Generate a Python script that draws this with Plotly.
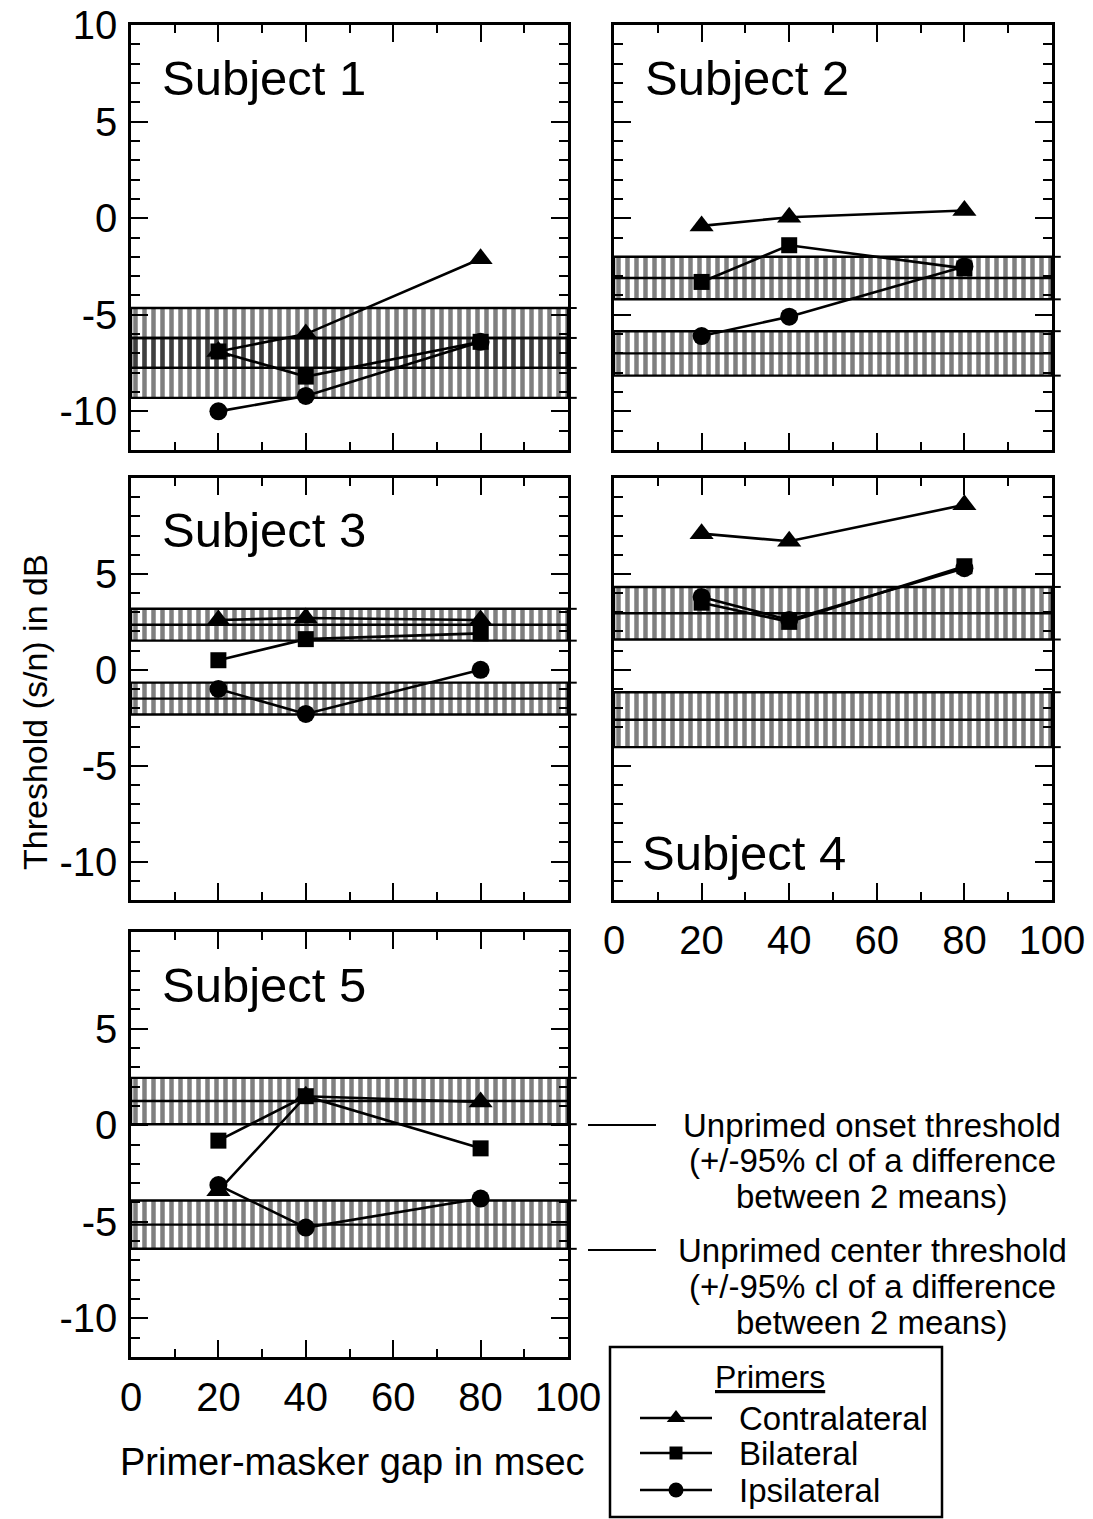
import plotly.graph_objects as go

W, H = 1093, 1519
OFF = 8  # page body margin of the html page
FONT = "Liberation Sans, Arial, sans-serif"

# ---------------- data ----------------
gaps = [20, 40, 80]
series_names = ["Contralateral", "Bilateral", "Ipsilateral"]

s1_contra = [-6.9, -6.0, -2.1]
s1_bilat = [-6.9, -8.2, -6.4]
s1_ipsi = [-10.0, -9.2, -6.4]

s2_contra = [-0.4, 0.05, 0.4]
s2_bilat = [-3.3, -1.4, -2.6]
s2_ipsi = [-6.1, -5.1, -2.5]

s3_contra = [2.6, 2.7, 2.6]
s3_bilat = [0.5, 1.6, 1.9]
s3_ipsi = [-1.0, -2.3, 0.0]

s4_contra = [7.1, 6.7, 8.6]
s4_bilat = [3.5, 2.5, 5.4]
s4_ipsi = [3.8, 2.6, 5.3]

s5_contra = [-3.4, 1.5, 1.2]
s5_bilat = [-0.8, 1.5, -1.2]
s5_ipsi = [-3.1, -5.3, -3.8]

# unprimed thresholds (mean, +/- 95% ci half-width), subjects 1..5
onset_mean = [-6.2, -3.1, 2.35, 2.95, 1.25]
onset_ci = [1.55, 1.1, 0.83, 1.37, 1.2]
center_mean = [-7.75, -7.0, -1.5, -2.6, -5.15]
center_ci = [1.55, 1.15, 0.83, 1.43, 1.25]

subject_labels = ["Subject 1", "Subject 2", "Subject 3", "Subject 4", "Subject 5"]
x_range = [0, 100]
y_range = [-12, 10]
x_ticks = [0, 20, 40, 60, 80, 100]
y_ticks_top = [-10, -5, 0, 5, 10]
y_ticks_low = [-10, -5, 0, 5]

contra = [s1_contra, s2_contra, s3_contra, s4_contra, s5_contra]
bilat = [s1_bilat, s2_bilat, s3_bilat, s4_bilat, s5_bilat]
ipsi = [s1_ipsi, s2_ipsi, s3_ipsi, s4_ipsi, s5_ipsi]


# ---------------- layout helpers (page pixel -> paper) ----------------
def px(x):
    return (x - OFF) / W


def py(y):
    return 1 - (y - OFF) / H


cols = [(131, 568), (614, 1052)]
rows = [(25, 450), (478, 900), (932, 1357)]
panel_pos = [(0, 0), (1, 0), (0, 1), (1, 1), (0, 2)]  # (col, row)

fig = go.Figure()


def ax_suffix(i):
    return "" if i == 0 else str(i + 1)


symbols = ["triangle-up", "square", "circle"]
sizes = [21, 16, 18]
shapes = []

for i in range(5):
    xa = "x" + ax_suffix(i)
    ya = "y" + ax_suffix(i)
    # hatched bands
    for mean, ci in ((onset_mean[i], onset_ci[i]), (center_mean[i], center_ci[i])):
        lo, hi = mean - ci, mean + ci
        fig.add_trace(go.Scatter(
            x=[x_range[0], x_range[1], x_range[1], x_range[0], x_range[0]],
            y=[lo, lo, hi, hi, lo],
            mode="lines", fill="toself",
            fillcolor="rgba(0,0,0,0)",
            fillpattern=dict(shape="|", size=9, solidity=0.5,
                             fgcolor="black", bgcolor="rgba(0,0,0,0)"),
            line=dict(color="black", width=2.4),
            xaxis=xa, yaxis=ya, showlegend=False, hoverinfo="skip"))
        fig.add_trace(go.Scatter(
            x=x_range, y=[mean, mean], mode="lines",
            line=dict(color="black", width=2.4),
            xaxis=xa, yaxis=ya, showlegend=False, hoverinfo="skip"))
        # band edges poke out past the right frame
        for v in (lo, hi):
            shapes.append(dict(type="line", xref=xa + " domain", yref=ya,
                               x0=1.0, x1=1.02, y0=v, y1=v,
                               line=dict(color="black", width=2)))
    # data series
    for k, vals in enumerate((contra[i], bilat[i], ipsi[i])):
        fig.add_trace(go.Scatter(
            x=gaps, y=vals, mode="lines+markers",
            name=series_names[k], showlegend=False,
            line=dict(color="black", width=2.6),
            marker=dict(symbol=symbols[k], size=sizes[k], color="black"),
            xaxis=xa, yaxis=ya, cliponaxis=False))

common = dict(showline=True, linecolor="black", linewidth=2.5, mirror="allticks",
              ticks="inside", tickwidth=2, tickcolor="black", showgrid=False,
              zeroline=False, ticklabeloverflow="allow",
              tickfont=dict(family=FONT, size=40, color="black"))

for i in range(5):
    c, r = panel_pos[i]
    s = ax_suffix(i)
    show_x = i in (3, 4)
    xaxis = dict(common, domain=[px(cols[c][0]), px(cols[c][1])], range=x_range,
                 anchor="y" + s, tickmode="array", tickvals=x_ticks,
                 ticktext=[str(v) for v in x_ticks], ticklen=17,
                 minor=dict(ticks="inside", ticklen=8, tickwidth=2, tickcolor="black",
                            tickmode="linear", tick0=0, dtick=10),
                 showticklabels=show_x, ticklabelstandoff=3)
    yt = y_ticks_top if i == 0 else y_ticks_low
    yaxis = dict(common, domain=[py(rows[r][1]), py(rows[r][0])], range=y_range,
                 anchor="x" + s, tickmode="array", tickvals=yt,
                 ticktext=[str(v) for v in yt], ticklen=17,
                 minor=dict(ticks="inside", ticklen=9, tickwidth=2, tickcolor="black",
                            tickmode="linear", tick0=0, dtick=1),
                 showticklabels=(c == 0), ticklabelstandoff=3)
    fig.layout["xaxis" + s] = xaxis
    fig.layout["yaxis" + s] = yaxis

# ---------------- hand-made key box (pixel-space helper axis) ----------------
key_x0, key_x1, key_top, key_bot = 610, 942, 1347, 1517
fig.layout["xaxis6"] = dict(domain=[px(key_x0), px(key_x1)], range=[key_x0, key_x1],
                            visible=False, anchor="y6", fixedrange=True)
fig.layout["yaxis6"] = dict(domain=[0, py(key_top)], range=[H + OFF, key_top],
                            visible=False, anchor="x6", fixedrange=True)
key_rows = [1418, 1453, 1490]
for k in range(3):
    fig.add_trace(go.Scatter(
        x=[640, 676, 712], y=[key_rows[k]] * 3, mode="lines",
        line=dict(color="black", width=2.4), xaxis="x6", yaxis="y6",
        showlegend=False, hoverinfo="skip"))
    fig.add_trace(go.Scatter(
        x=[676], y=[key_rows[k]], mode="markers",
        marker=dict(symbol=symbols[k], size=[16, 13, 15][k], color="black"),
        xaxis="x6", yaxis="y6", showlegend=False, hoverinfo="skip", cliponaxis=False))

shapes.append(dict(type="rect", xref="paper", yref="paper",
                   x0=px(key_x0), x1=px(key_x1), y0=py(key_bot), y1=py(key_top),
                   line=dict(color="black", width=2.5), fillcolor="rgba(0,0,0,0)"))


def note(text, x, y, size, xanchor="center", angle=0):
    return dict(x=px(x), y=py(y), xref="paper", yref="paper", text=text,
                showarrow=False, xanchor=xanchor, yanchor="middle", textangle=angle,
                font=dict(family=FONT, size=size, color="black"))


annotations = []
label_pos = [(160, 78), (643, 78), (160, 530), (640, 853), (160, 985)]
for i, (lx, ly) in enumerate(label_pos):
    annotations.append(note(subject_labels[i], lx, ly, 49, xanchor="left"))

annotations.append(note("Threshold (s/n) in dB", 35, 712, 34, angle=-90))
annotations.append(note("Primer-masker gap in msec", 352, 1462, 38))

key_lines = [
    ("Unprimed onset threshold", 1125), ("(+/-95% cl of a difference", 1160),
    ("between 2 means)", 1196),
    ("Unprimed center threshold", 1250), ("(+/-95% cl of a difference", 1286),
    ("between 2 means)", 1322),
]
for txt, yy in key_lines:
    annotations.append(note(txt, 872, yy, 33))

for yy in (1125, 1250):
    shapes.append(dict(type="line", xref="paper", yref="paper", x0=px(588), x1=px(656),
                       y0=py(yy), y1=py(yy), line=dict(color="black", width=2)))

annotations.append(note("<u>Primers</u>", 770, 1377, 32))
for k in range(3):
    annotations.append(note(series_names[k], 737, key_rows[k], 33, xanchor="left"))

fig.update_layout(
    width=W, height=H, margin=dict(l=0, r=0, t=0, b=0, autoexpand=False),
    paper_bgcolor="white", plot_bgcolor="white",
    font=dict(family=FONT, color="black"),
    annotations=annotations, shapes=shapes, showlegend=False,
)

fig.write_html("out.html")
